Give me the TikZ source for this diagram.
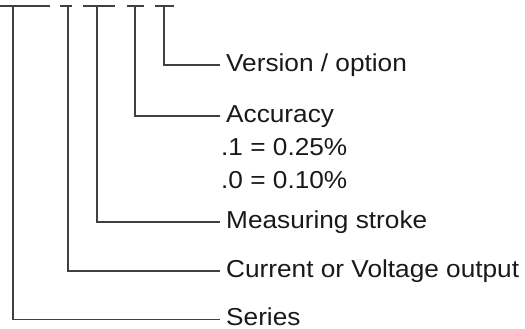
\documentclass[tikz,border=0pt]{standalone}
\usepackage{fontspec}
\setmainfont{Liberation Sans}
\newfontfamily\labelfont[FakeStretch=1.07]{Liberation Sans}
\begin{document}
\begin{tikzpicture}[x=1pt, y=-1pt]
  % Define styles
  \tikzstyle{label} = [anchor=west, inner xsep=6pt, inner ysep=0pt, text height=17pt, text depth=5pt, font=\labelfont\fontsize{24.5}{28}\selectfont, text=black!90]
  \tikzstyle{value} = [anchor=base west, inner sep=0pt, font=\labelfont\fontsize{24.5}{28}\selectfont, text=black!90]
  \tikzstyle{line} = [draw, line width=1.2pt, black!75]

  \useasboundingbox (0,0) rectangle (525,329);

  % Tops of the code positions
  \coordinate (bar1l) at (0,6);   \coordinate (bar1r) at (50,6);  \coordinate (top1) at (13,6);
  \coordinate (bar2l) at (60,6);  \coordinate (bar2r) at (72,6);  \coordinate (top2) at (68,6);
  \coordinate (bar3l) at (83,6);  \coordinate (bar3r) at (115,6); \coordinate (top3) at (97,6);
  \coordinate (bar4l) at (127,6); \coordinate (bar4r) at (144,6); \coordinate (top4) at (135,6);
  \coordinate (bar5l) at (155,6); \coordinate (bar5r) at (174,6); \coordinate (top5) at (164,6);

  % Place labels
  \node [label] (version) at (220,65) {Version / option};
  \node [label] (accuracy) at (220,116) {Accuracy};
  \node [value] (acc1) at (221,155) {.1 = 0.25\%};
  \node [value] (acc0) at (221,188) {.0 = 0.10\%};
  \node [label] (stroke) at (220,222) {Measuring stroke};
  \node [label] (output) at (220,271) {Current or Voltage output};
  \node [label] (series) at (220,319.5) {Series};

  % Draw lines
  \path [line] (bar1l) -- (bar1r);
  \path [line] (bar2l) -- (bar2r);
  \path [line] (bar3l) -- (bar3r);
  \path [line] (bar4l) -- (bar4r);
  \path [line] (bar5l) -- (bar5r);
  \path [line] (top5) |- (version.west);
  \path [line] (top4) |- (accuracy.west);
  \path [line] (top3) |- (stroke.west);
  \path [line] (top2) |- (output.west);
  \path [line] (top1) |- (series.west);
\end{tikzpicture}
\end{document}
